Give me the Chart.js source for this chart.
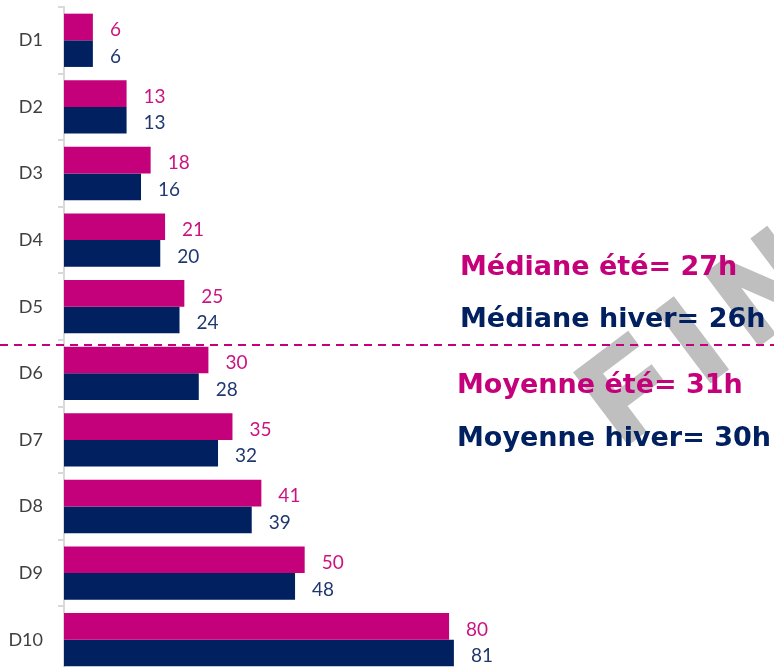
<!DOCTYPE html>
<html>
<head>
<meta charset="utf-8">
<script src="https://cdn.jsdelivr.net/npm/chart.js@4"></script>
<style>
  html, body { margin: 0; padding: 0; background: #fff; overflow: hidden; }
</style>
</head>
<body>
<canvas id="mychart" width="774" height="673"></canvas>
<script>
// deciles and hours
const categories = ['D1', 'D2', 'D3', 'D4', 'D5', 'D6', 'D7', 'D8', 'D9', 'D10'];
const ete = [6, 13, 18, 21, 25, 30, 35, 41, 50, 80];
const hiver = [6, 13, 16, 20, 24, 28, 32, 39, 48, 81];

const notes = [
  { text: 'Médiane été= 27h', color: '#C4007A', x: 460, y: 268 },
  { text: 'Médiane hiver= 26h', color: '#002060', x: 460, y: 320 },
  { text: 'Moyenne été= 31h', color: '#C4007A', x: 457, y: 386 },
  { text: 'Moyenne hiver= 30h', color: '#002060', x: 457, y: 439 }
];

const PINK = '#C4007A';
const NAVY = '#002060';

// grey watermark behind everything
const watermark = {
  id: 'watermark',
  beforeDatasetsDraw(chart) {
    const ctx = chart.ctx;
    ctx.save();
    ctx.translate(622, 447);
    ctx.rotate(-37 * Math.PI / 180);
    ctx.fillStyle = '#BFBFBF';
    ctx.strokeStyle = '#BFBFBF';
    ctx.lineWidth = 5;
    ctx.font = 'bold 126px "Liberation Sans"';
    ctx.letterSpacing = '26px';
    ctx.textBaseline = 'alphabetic';
    ctx.fillText('FINAL', 0, 0);
    ctx.strokeText('FINAL', 0, 0);
    ctx.restore();
  }
};

// value labels at the end of every bar + notes + dashed line
const extras = {
  id: 'extras',
  afterDatasetsDraw(chart) {
    const ctx = chart.ctx;
    ctx.save();
    ctx.font = '19px Lato';
    ctx.textBaseline = 'middle';
    ctx.textAlign = 'left';
    const labelColors = ['#CC1480', '#1F3870'];
    chart.data.datasets.forEach((ds, i) => {
      chart.getDatasetMeta(i).data.forEach((bar, j) => {
        ctx.fillStyle = labelColors[i];
        ctx.fillText(ds.data[j], bar.x + 17, bar.y + 3);
      });
    });

    ctx.strokeStyle = PINK;
    ctx.lineWidth = 2;
    ctx.setLineDash([8, 6]);
    ctx.beginPath();
    ctx.moveTo(0, 345);
    ctx.lineTo(774, 345);
    ctx.stroke();
    ctx.setLineDash([]);

    ctx.font = 'bold 27px "DejaVu Sans"';
    notes.forEach((n) => {
      ctx.fillStyle = n.color;
      ctx.fillText(n.text, n.x, n.y);
    });
    ctx.restore();
  }
};

var context = document.getElementById('mychart').getContext('2d');
var chart = new Chart(context, {
  type: 'bar',
  data: {
    labels: categories,
    datasets: [
      { label: 'été', backgroundColor: PINK, data: ete },
      { label: 'hiver', backgroundColor: NAVY, data: hiver }
    ]
  },
  options: {
    indexAxis: 'y',
    responsive: false,
    animation: false,
    layout: { padding: { top: 7, right: 0, bottom: 0, left: 0 } },
    datasets: { bar: { categoryPercentage: 0.8, barPercentage: 1.0 } },
    plugins: {
      legend: { display: false },
      tooltip: { enabled: false }
    },
    scales: {
      x: {
        display: false,
        min: 0,
        max: 147.5
      },
      y: {
        afterFit: (s) => {
          s.width = 64;
          s.paddingTop = 0;
          s.paddingBottom = 0;
        },
        grid: {
          offset: true,
          drawOnChartArea: false,
          tickLength: 6,
          color: '#D9D9D9',
          lineWidth: 2
        },
        border: { color: '#D9D9D9', width: 2 },
        ticks: {
          color: '#404040',
          padding: 15,
          font: { family: 'Lato', size: 18 }
        }
      }
    }
  },
  plugins: [watermark, extras]
});
</script>
</body>
</html>
